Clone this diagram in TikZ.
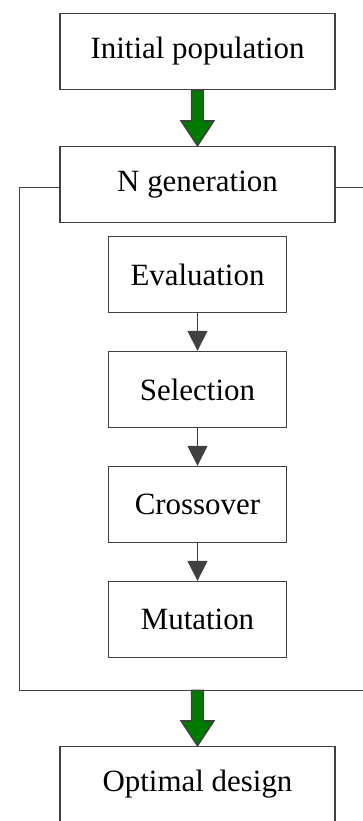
\documentclass[tikz,border=0pt]{standalone}
\usepackage{fontspec}
\setmainfont{Liberation Serif}
\usepackage{tikz}
\usetikzlibrary{arrows.meta,positioning,calc}
\definecolor{linegray}{RGB}{64,64,64}
\definecolor{arrowgreen}{RGB}{0,122,0}

\begin{document}
\begin{tikzpicture}[>={Triangle[length=4mm,width=4mm]},node distance=0.752cm,
                    line width=0.8pt]
  \tikzstyle{bigbox}=[rectangle,draw=linegray,fill=white,inner sep=2pt,
                      minimum width=5.5cm,minimum height=1.52cm,
                      font=\fontsize{17.6}{21}\selectfont]
  \tikzstyle{smallbox}=[bigbox,minimum width=3.57cm]
  \tikzstyle{greenarrow}=[fill=arrowgreen,draw=linegray]

  % page: 362x821 px, init box centred at the origin
  \useasboundingbox (-3.95,1.03) rectangle (3.29,-15.39);

  \node[bigbox]   (init) at (0,0)                 {Initial population};
  \node[bigbox]   (ngen)  [below=1.112cm of init] {N generation};
  \node[smallbox] (eval)  [below=0.252cm of ngen] {Evaluation};
  \node[smallbox] (sel)   [below=of eval]         {Selection};
  \node[smallbox] (cross) [below=of sel]          {Crossover};
  \node[smallbox] (mut)   [below=of cross]        {Mutation};

  % loop frame
  \coordinate (ftl) at ($(ngen.west)+(-0.8,-0.06)$);
  \coordinate (ftr) at ($(ngen.east)+(0.8,-0.06)$);
  \coordinate (fb)  at ($(mut.south)+(0,-0.64)$);
  \draw[linegray] (ngen.west |- ftl) -- (ftl) -- (ftl |- fb) -- (ftr |- fb) -- (ftr) -- (ngen.east |- ftr);

  \node[bigbox]   (opt)   [below=1.112cm of fb]   {Optimal design};

  \path[->,color=linegray]
        (eval)  edge (sel)
        (sel)   edge (cross)
        (cross) edge (mut);

  % green block arrows
  \filldraw[greenarrow] ($(init.south)+(-0.12,0)$) -- ($(ngen.north)+(-0.12,0.5)$)
        -- ($(ngen.north)+(-0.33,0.5)$) -- (ngen.north) -- ($(ngen.north)+(0.33,0.5)$)
        -- ($(ngen.north)+(0.12,0.5)$) -- ($(init.south)+(0.12,0)$) -- cycle;
  \filldraw[greenarrow] ($(fb)+(-0.12,0)$) -- ($(opt.north)+(-0.12,0.5)$)
        -- ($(opt.north)+(-0.33,0.5)$) -- (opt.north) -- ($(opt.north)+(0.33,0.5)$)
        -- ($(opt.north)+(0.12,0.5)$) -- ($(fb)+(0.12,0)$) -- cycle;
\end{tikzpicture}
\end{document}
